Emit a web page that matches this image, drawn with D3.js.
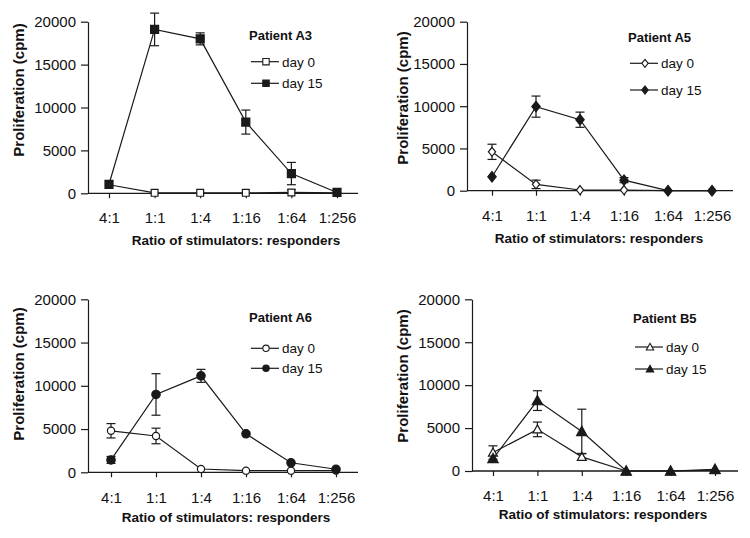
<!DOCTYPE html>
<html>
<head>
<meta charset="utf-8">
<script src="https://cdn.jsdelivr.net/npm/d3@7"></script>
<style>
  html, body { margin: 0; padding: 0; background: #fff; }
  svg { display: block; }
  text { font-family: "Liberation Sans", Arial, sans-serif; fill: #111; }
</style>
</head>
<body>
<svg id="chart" width="750" height="538"></svg>
<script>
// ---------------- data ----------------
const categories = ["4:1", "1:1", "1:4", "1:16", "1:64", "1:256"];
const yTickValues = [0, 5000, 10000, 15000, 20000];
const yMax = 20000;
const seriesLabels = ["day 0", "day 15"];
const patients = ["Patient A3", "Patient A5", "Patient A6", "Patient B5"];
const markerShapes = ["square", "diamond", "circle", "triangle"];
const xTitle = "Ratio of stimulators: responders";
const yTitle = "Proliferation (cpm)";

const a3Day0 = [1000, 50, 50, 50, 100, 50];
const a3Day0Err = [0, 0, 0, 0, 300, 0];
const a3Day15 = [1050, 19100, 18000, 8300, 2300, 100];
const a3Day15Err = [0, 1900, 700, 1400, 1300, 0];

const a5Day0 = [4600, 750, 80, 80, 0, 0];
const a5Day0Err = [900, 500, 0, 0, 0, 0];
const a5Day15 = [1650, 9950, 8400, 1250, 0, 0];
const a5Day15Err = [0, 1250, 900, 300, 0, 0];

const a6Day0 = [4800, 4200, 380, 190, 190, 200];
const a6Day0Err = [830, 900, 0, 0, 0, 0];
const a6Day15 = [1430, 9000, 11150, 4450, 1100, 350];
const a6Day15Err = [400, 2400, 750, 0, 0, 0];

const b5Day0 = [2150, 4850, 1650, 0, 0, 100];
const b5Day0Err = [780, 850, 400, 0, 0, 0];
const b5Day15 = [1450, 8200, 4600, 0, 0, 200];
const b5Day15Err = [0, 1150, 2600, 0, 0, 0];

const panelSeries = [
  [[a3Day0, a3Day0Err], [a3Day15, a3Day15Err]],
  [[a5Day0, a5Day0Err], [a5Day15, a5Day15Err]],
  [[a6Day0, a6Day0Err], [a6Day15, a6Day15Err]],
  [[b5Day0, b5Day0Err], [b5Day15, b5Day15Err]]
];

// ---------------- layout ----------------
const layout = [
  { ax: 88,  top: 21.7,  bottom: 193.3, right: 358, x0: 109, x1: 337, titleY: 40,  leg1: 61.7,  leg2: 83.3,  yTitleX: 19,  yTitleY: 90,  xTitleX: 236, xTitleY: 245, tickY: 223 },
  { ax: 467, top: 21.7,  bottom: 190.7, right: 733, x0: 492, x1: 712, titleY: 42,  leg1: 63.3,  leg2: 90,    yTitleX: 403, yTitleY: 98,  xTitleX: 599, xTitleY: 243, tickY: 221 },
  { ax: 88,  top: 299.3, bottom: 472.3, right: 358, x0: 111, x1: 336, titleY: 321.7, leg1: 348.3, leg2: 368.3, yTitleX: 19,  yTitleY: 374, xTitleX: 226, xTitleY: 521.7, tickY: 503 },
  { ax: 472, top: 299.3, bottom: 471,   right: 738, x0: 493, x1: 715, titleY: 323, leg1: 347,   leg2: 369,   yTitleX: 403, yTitleY: 376, xTitleX: 603, xTitleY: 519, tickY: 501 }
];

const ink = "#1a1a1a";
const svg = d3.select("#chart");

function markerPath(shape, s) {
  if (shape === "square") return `M${-s},${-s}H${s}V${s}H${-s}Z`;
  if (shape === "diamond") { const h = s * 1.25, w = s; return `M0,${-h}L${w},0L0,${h}L${-w},0Z`; }
  if (shape === "triangle") { const h = s * 1.15; return `M0,${-h}L${s * 1.15},${h * 0.8}L${-s * 1.15},${h * 0.8}Z`; }
  return d3.symbol(d3.symbolCircle, Math.PI * s * s)();
}

patients.forEach((name, p) => {
  const L = layout[p];
  const g = svg.append("g");
  const x = d3.scalePoint().domain(categories).range([L.x0, L.x1]);
  const y = d3.scaleLinear().domain([0, yMax]).range([L.bottom, L.top]);

  // y axis
  const yAxis = g.append("g").attr("transform", `translate(${L.ax},0)`)
    .call(d3.axisLeft(y).tickValues(yTickValues).tickSizeOuter(0).tickSizeInner(7).tickPadding(5).tickFormat(d3.format("d")));
  yAxis.selectAll("path,line").attr("stroke", ink).attr("stroke-width", 1.2);
  yAxis.selectAll("text").attr("font-size", 15).attr("fill", "#111").style("font-family", "'Liberation Sans', Arial, sans-serif");

  // x axis
  const xAxis = g.append("g").attr("transform", `translate(0,${L.bottom})`)
    .call(d3.axisBottom(x).tickSizeOuter(0).tickSizeInner(5).tickPadding(L.tickY - L.bottom - 16));
  xAxis.select(".domain").remove();
  xAxis.selectAll("line").attr("stroke", ink).attr("stroke-width", 1.2);
  xAxis.selectAll("text").attr("font-size", 15).attr("fill", "#111").style("font-family", "'Liberation Sans', Arial, sans-serif");
  g.append("line").attr("x1", L.ax).attr("x2", L.right).attr("y1", L.bottom).attr("y2", L.bottom)
    .attr("stroke", ink).attr("stroke-width", 1.3);

  // axis titles
  g.append("text").attr("x", L.xTitleX).attr("y", L.xTitleY).attr("text-anchor", "middle")
    .attr("font-size", 13.5).attr("font-weight", "bold").text(xTitle);
  g.append("text").attr("transform", `translate(${L.yTitleX + 5},${L.yTitleY}) rotate(-90)`)
    .attr("text-anchor", "middle").attr("font-size", 15).attr("font-weight", "bold").text(yTitle);

  // series
  const shape = markerShapes[p];
  const sizes = { square: 4, diamond: 4.2, circle: 4.2, triangle: 4.5 };
  const line = d3.line().x((d, i) => x(categories[i])).y(d => y(d));
  panelSeries[p].forEach(([vals, errs], s) => {
    const sg = g.append("g");
    sg.append("path").attr("d", line(vals)).attr("fill", "none").attr("stroke", ink).attr("stroke-width", 1.2);
    vals.forEach((v, i) => {
      const e = errs[i];
      if (e > 0) {
        const cx = x(categories[i]);
        sg.append("line").attr("x1", cx).attr("x2", cx).attr("y1", y(v + e)).attr("y2", y(Math.max(0, v - e)))
          .attr("stroke", ink).attr("stroke-width", 1.2);
        [v + e, Math.max(0, v - e)].forEach(ev => {
          sg.append("line").attr("x1", cx - 4.5).attr("x2", cx + 4.5).attr("y1", y(ev)).attr("y2", y(ev))
            .attr("stroke", ink).attr("stroke-width", 1.2);
        });
      }
    });
    sg.selectAll("path.mk").data(vals).join("path").attr("class", "mk")
      .attr("transform", (d, i) => `translate(${x(categories[i])},${y(d)})`)
      .attr("d", markerPath(shape, s === 0 ? sizes[shape] - 0.6 : sizes[shape]))
      .attr("fill", s === 0 ? "#fff" : ink)
      .attr("stroke", ink).attr("stroke-width", 1.2);
  });

  // panel title and legend
  const lx = L.ax + 163;
  g.append("text").attr("x", L.ax + 161).attr("y", L.titleY).attr("font-size", 13).attr("font-weight", "bold").text(name);
  [L.leg1, L.leg2].forEach((ly, s) => {
    g.append("line").attr("x1", lx).attr("x2", lx + 28).attr("y1", ly).attr("y2", ly).attr("stroke", ink).attr("stroke-width", 1.2);
    g.append("path").attr("transform", `translate(${lx + 15},${ly})`)
      .attr("d", markerPath(shape, 3.2))
      .attr("fill", s === 0 ? "#fff" : ink).attr("stroke", ink).attr("stroke-width", 1.1);
    g.append("text").attr("x", lx + 31).attr("y", ly + 4.8).attr("font-size", 13.5).text(seriesLabels[s]);
  });
});
</script>
</body>
</html>
